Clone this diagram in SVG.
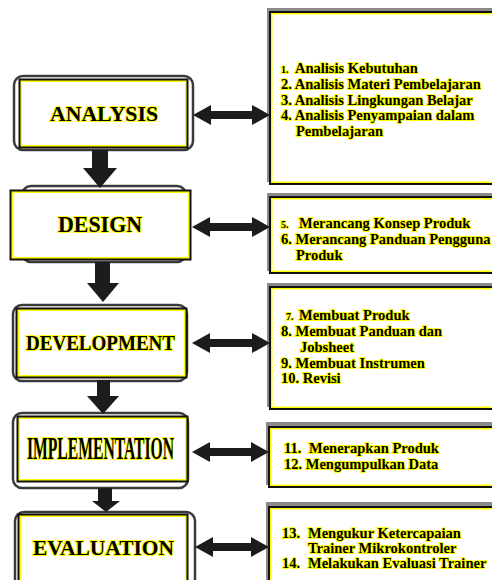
<svg xmlns="http://www.w3.org/2000/svg" width="492" height="580" viewBox="0 0 492 580">
  <style>
    .title { font-family: "Liberation Serif", "Times New Roman", serif; font-weight: bold; fill: #000000; stroke: #ffff00; stroke-width: 2.2; paint-order: stroke; stroke-linejoin: round; }
    .item { font-family: "Liberation Serif", "Times New Roman", serif; font-weight: bold; font-size: 14.5px; fill: #000000; stroke: #ffff00; stroke-width: 2.2; paint-order: stroke; stroke-linejoin: round; }
    .small { font-size: 10px; }
    .arrow { fill: #1c1c1c; }
  </style>

  <!-- phase boxes on the left: rounded shadow, black frame, yellow rim, white face -->
  <g id="analysis">
    <rect x="14" y="76" width="179" height="74" rx="9" fill="#ffffff" stroke="#3a3a3a" stroke-width="2.5"/>
    <rect x="18.5" y="78.5" width="170" height="70" fill="#111111"/>
    <rect x="20.5" y="80.5" width="166" height="66" fill="#ffff00"/>
    <rect x="22" y="82" width="163" height="63" fill="#ffffff"/>
    <text class="title" x="50" y="121" font-size="22" textLength="108" lengthAdjust="spacingAndGlyphs">ANALYSIS</text>
  </g>

  <g id="design">
    <rect x="22" y="186" width="164" height="76" rx="9" fill="#ffffff" stroke="#3a3a3a" stroke-width="2.5"/>
    <rect x="9.5" y="189.5" width="182" height="71" fill="#111111"/>
    <rect x="11.5" y="191.5" width="178" height="67" fill="#ffff00"/>
    <rect x="13" y="193" width="175" height="64" fill="#ffffff"/>
    <text class="title" x="58" y="232" font-size="23" textLength="84" lengthAdjust="spacingAndGlyphs">DESIGN</text>
  </g>

  <g id="development">
    <rect x="13" y="305" width="174" height="76" rx="9" fill="#ffffff" stroke="#3a3a3a" stroke-width="2.5"/>
    <rect x="15.5" y="307.5" width="172" height="71" fill="#111111"/>
    <rect x="17.5" y="309.5" width="168" height="67" fill="#ffff00"/>
    <rect x="19" y="311" width="165" height="64" fill="#ffffff"/>
    <text class="title" x="26" y="350" font-size="22" textLength="149" lengthAdjust="spacingAndGlyphs">DEVELOPMENT</text>
  </g>

  <g id="implementation">
    <rect x="13" y="413" width="175" height="75" rx="9" fill="#ffffff" stroke="#3a3a3a" stroke-width="2.5"/>
    <rect x="16.5" y="415.5" width="172" height="67" fill="#111111"/>
    <rect x="18.5" y="417.5" width="168" height="63" fill="#ffff00"/>
    <rect x="20" y="419" width="165" height="60" fill="#ffffff"/>
    <text class="title" x="27" y="459" font-size="31" textLength="147" lengthAdjust="spacingAndGlyphs">IMPLEMENTATION</text>
  </g>

  <g id="evaluation">
    <rect x="15" y="512" width="180" height="80" rx="9" fill="#ffffff" stroke="#3a3a3a" stroke-width="2.5"/>
    <rect x="17.5" y="513.5" width="171" height="80" fill="#111111"/>
    <rect x="19.5" y="515.5" width="167" height="76" fill="#ffff00"/>
    <rect x="21" y="517" width="164" height="73" fill="#ffffff"/>
    <text class="title" x="33" y="555" font-size="22" textLength="141" lengthAdjust="spacingAndGlyphs">EVALUATION</text>
  </g>

  <!-- activity boxes on the right (they run past the right edge) -->
  <g id="analysis-tasks">
    <rect x="267" y="8" width="240" height="174" fill="#8a8a8a"/>
    <rect x="269" y="11" width="240" height="174" fill="#111111"/>
    <rect x="271" y="13" width="236" height="170" fill="#ffff00"/>
    <rect x="272.5" y="14.5" width="233" height="167" fill="#ffffff"/>
    <text class="item" x="281" y="73"><tspan class="small">1.</tspan><tspan x="295">Analisis Kebutuhan</tspan></text>
    <text class="item" x="281" y="89">2. Analisis Materi Pembelajaran</text>
    <text class="item" x="281" y="104.5">3. Analisis Lingkungan Belajar</text>
    <text class="item" x="281" y="120">4. Analisis Penyampaian dalam</text>
    <text class="item" x="296" y="135.5">Pembelajaran</text>
  </g>

  <g id="design-tasks">
    <rect x="267" y="193" width="240" height="78" fill="#8a8a8a"/>
    <rect x="269" y="196" width="240" height="78" fill="#111111"/>
    <rect x="271" y="198" width="236" height="74" fill="#ffff00"/>
    <rect x="272.5" y="199.5" width="233" height="71" fill="#ffffff"/>
    <text class="item" x="281" y="228"><tspan class="small">5.</tspan><tspan x="299">Merancang Konsep Produk</tspan></text>
    <text class="item" x="281" y="244">6. Merancang Panduan Pengguna</text>
    <text class="item" x="296" y="260">Produk</text>
  </g>

  <g id="development-tasks">
    <rect x="267" y="283" width="240" height="124" fill="#8a8a8a"/>
    <rect x="269" y="286" width="240" height="124" fill="#111111"/>
    <rect x="271" y="288" width="236" height="120" fill="#ffff00"/>
    <rect x="272.5" y="289.5" width="233" height="117" fill="#ffffff"/>
    <text class="item" x="286" y="320"><tspan class="small">7.</tspan><tspan x="299">Membuat Produk</tspan></text>
    <text class="item" x="281" y="336">8. Membuat Panduan dan</text>
    <text class="item" x="300" y="352">Jobsheet</text>
    <text class="item" x="281" y="367.5">9. Membuat Instrumen</text>
    <text class="item" x="281" y="383">10. Revisi</text>
  </g>

  <g id="implementation-tasks">
    <rect x="266" y="422" width="240" height="63" fill="#8a8a8a"/>
    <rect x="268" y="426" width="240" height="62" fill="#111111"/>
    <rect x="270" y="428" width="236" height="58" fill="#ffff00"/>
    <rect x="271.5" y="429.5" width="233" height="55" fill="#ffffff"/>
    <text class="item" x="284" y="453">11.<tspan x="309">Menerapkan Produk</tspan></text>
    <text class="item" x="284" y="469">12. Mengumpulkan Data</text>
  </g>

  <g id="evaluation-tasks">
    <rect x="266" y="502" width="240" height="90" fill="#8a8a8a"/>
    <rect x="268" y="506" width="240" height="90" fill="#111111"/>
    <rect x="270" y="508" width="236" height="86" fill="#ffff00"/>
    <rect x="271.5" y="509.5" width="233" height="83" fill="#ffffff"/>
    <text class="item" x="282" y="537.5">13.<tspan x="308">Mengukur Ketercapaian</tspan></text>
    <text class="item" x="308" y="553">Trainer Mikrokontroler</text>
    <text class="item" x="282" y="568">14.<tspan x="308">Melakukan Evaluasi Trainer</tspan></text>
  </g>

  <!-- connectors -->
  <g id="connectors">
    <!-- flow between phases -->
    <path class="arrow" d="M92 150 H108 V168 H117 L100 188 L83 168 H92 Z"/>
    <path class="arrow" d="M95 262 H110 V283 H119 L103 302 L87 283 H95 Z"/>
    <path class="arrow" d="M97 380 H110 V396 H119 L103 414 L87 396 H97 Z"/>
    <path class="arrow" d="M98 488 H112 V501 H120 L106 512 L92 501 H98 Z"/>

    <!-- links between phases and their activities -->
    <path class="arrow" d="M193 115 L211 105 V111 H252 V105 L270 115 L252 125 V119 H211 V125 Z"/>
    <path class="arrow" d="M192 227 L210 217 V223 H252 V217 L270 227 L252 237 V231 H210 V237 Z"/>
    <path class="arrow" d="M192 343 L210 333 V339 H252 V333 L270 343 L252 353 V347 H210 V353 Z"/>
    <path class="arrow" d="M192 452 L210 442 V448 H251 V442 L269 452 L251 462 V456 H210 V462 Z"/>
    <path class="arrow" d="M195 547 L213 537 V543 H251 V537 L269 547 L251 557 V551 H213 V557 Z"/>
  </g>
</svg>
